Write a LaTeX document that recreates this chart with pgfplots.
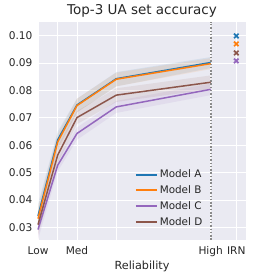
\documentclass[border=0pt]{standalone}
\usepackage{pgfplots}
\pgfplotsset{compat=1.18}
\usepackage{fontspec}
\setmainfont{DejaVu Sans}
\definecolor{bgc}{HTML}{EAEAF2}
\definecolor{cA}{HTML}{1F77B4}
\definecolor{cB}{HTML}{FF7F0E}
\definecolor{cC}{HTML}{9467BD}
\definecolor{cD}{HTML}{8C564B}
\definecolor{txt}{HTML}{262626}
\definecolor{dotc}{HTML}{8A8A8A}
\begin{document}
\begin{tikzpicture}[x=1pt,y=1pt]
\path[use as bounding box] (0,0) rectangle (253,278);
\begin{axis}[
  at={(38pt,38pt)}, anchor=south west,
  scale only axis, width=208pt, height=218pt,
  xmin=0, xmax=208, ymin=0.0254, ymax=0.1050,
  axis background/.style={fill=bgc},
  axis line style={draw=none},
  major tick length=0pt,
  grid=major, grid style={white, line width=0.8pt},
  xtick={0,19.7,39,78.3,172.7,198.3},
  xticklabels={Low,,Med,,High,IRN},
  ytick={0.03,0.04,0.05,0.06,0.07,0.08,0.09,0.10},
  yticklabel style={/pgf/number format/fixed, /pgf/number format/fixed zerofill, /pgf/number format/precision=2},
  /pgf/number format/assume math mode=true,
  ticklabel style={font=\fontsize{10.6}{12}\selectfont, text=txt},
  xticklabel style={yshift=-3pt},
  yticklabel style={xshift=-2pt},
  xlabel={Reliability}, xlabel style={font=\fontsize{11.2}{13}\selectfont, text=txt, yshift=3pt},
  title={Top-3 UA set accuracy}, title style={font=\fontsize{13.5}{15}\selectfont, text=txt, yshift=-5pt},
  legend style={draw=none, fill=none, font=\fontsize{10.4}{12}\selectfont, text=txt,
    at={(0.45,0.34)}, anchor=north west, row sep=2.3pt},
  legend cell align=left,
  legend image code/.code={\draw[#1, line width=2pt] (0pt,0pt) -- (21pt,0pt);},
  clip=false,
]
% bands
\addplot[fill=cA, draw=none, fill opacity=0.1, forget plot] coordinates {
 (0,0.0385) (19.7,0.065) (39,0.077) (78.3,0.0867) (172.7,0.0922)
 (172.7,0.0882) (78.3,0.0815) (39,0.072) (19.7,0.059) (0,0.0300)} -- cycle;
\addplot[fill=cB, draw=none, fill opacity=0.1, forget plot] coordinates {
 (0,0.0375) (19.7,0.064) (39,0.077) (78.3,0.0865) (172.7,0.0918)
 (172.7,0.0878) (78.3,0.0815) (39,0.072) (19.7,0.058) (0,0.0290)} -- cycle;
\addplot[fill=cC, draw=none, fill opacity=0.1, forget plot] coordinates {
 (0,0.0330) (19.7,0.055) (39,0.0665) (78.3,0.0762) (172.7,0.0825)
 (172.7,0.0783) (78.3,0.0718) (39,0.0620) (19.7,0.0505) (0,0.0255)} -- cycle;
\addplot[fill=cD, draw=none, fill opacity=0.1, forget plot] coordinates {
 (0,0.0350) (19.7,0.0595) (39,0.0725) (78.3,0.0808) (172.7,0.0855)
 (172.7,0.0805) (78.3,0.0758) (39,0.0677) (19.7,0.0535) (0,0.0270)} -- cycle;
% vertical dotted line at High
\addplot[dotc, line width=1.6pt, dash pattern=on 1.5pt off 1.8pt, forget plot] coordinates {(172.7,0.0254) (172.7,0.1050)};
% lines
\addplot[cA, line width=1.5pt] coordinates {(0,0.0342) (19.7,0.0620) (39,0.0747) (78.3,0.0843) (172.7,0.0902)};
\addlegendentry{Model A}
\addplot[cB, line width=1.5pt] coordinates {(0,0.0332) (19.7,0.0612) (39,0.0745) (78.3,0.0841) (172.7,0.0898)};
\addlegendentry{Model B}
\addplot[cC, line width=1.5pt] coordinates {(0,0.0292) (19.7,0.0527) (39,0.0643) (78.3,0.0740) (172.7,0.0804)};
\addlegendentry{Model C}
\addplot[cD, line width=1.5pt] coordinates {(0,0.0310) (19.7,0.0564) (39,0.0701) (78.3,0.0783) (172.7,0.0830)};
\addlegendentry{Model D}
% IRN markers
\addplot[cA, only marks, mark=x, mark size=3.2pt, line width=1.7pt, forget plot] coordinates {(198.3,0.0999)};
\addplot[cB, only marks, mark=x, mark size=3.2pt, line width=1.7pt, forget plot] coordinates {(198.3,0.0970)};
\addplot[cD, only marks, mark=x, mark size=3.2pt, line width=1.7pt, forget plot] coordinates {(198.3,0.0937)};
\addplot[cC, only marks, mark=x, mark size=3.2pt, line width=1.7pt, forget plot] coordinates {(198.3,0.0908)};
\end{axis}
\end{tikzpicture}
\end{document}
